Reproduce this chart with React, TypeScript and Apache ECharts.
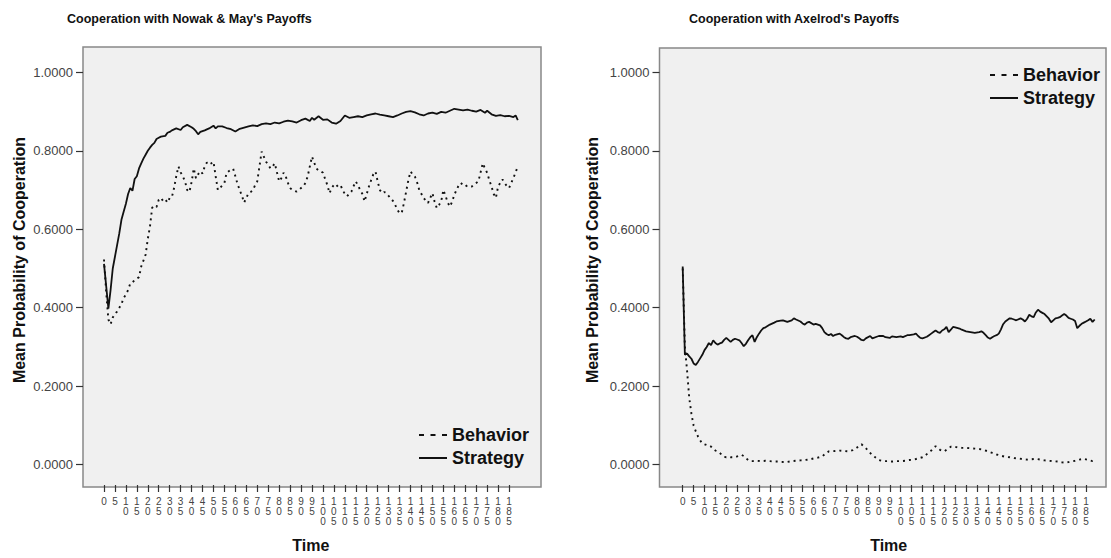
import React, { useEffect, useRef } from "react";
import * as echarts from "echarts";

const FONT = "'Liberation Sans', Arial, sans-serif";

// Time steps (categories) and labelled ticks
const TIME_STEPS: string[] = Array.from({ length: 190 }, (_, i) => String(i));
const LAST_LABELLED_STEP = 185;
const LABEL_EVERY = 5;

const TITLES = ["Cooperation with Nowak & May's Payoffs", "Cooperation with Axelrod's Payoffs"];
const Y_NAME = "Mean Probability of Cooperation";
const X_NAME = "Time";
const SERIES_NAMES = ["Behavior", "Strategy"];

// Nowak & May: Strategy [time, mean probability]
const nmStrategy: [number, number][] = [
  [0, 0.512], [1, 0.455], [2, 0.398], [3, 0.445], [4, 0.5], [5, 0.53], [6, 0.56], [7, 0.59], [8, 0.625], [9, 0.645],
  [10, 0.665], [11, 0.69], [12, 0.705], [13, 0.698], [14, 0.728], [15, 0.735], [16, 0.755], [17, 0.768], [18, 0.78],
  [19, 0.79], [20, 0.8], [21, 0.808], [22, 0.815], [23, 0.82], [24, 0.83], [25, 0.833], [26, 0.836], [28, 0.838],
  [29, 0.846], [30, 0.848], [31, 0.852], [33, 0.857], [35, 0.853], [36, 0.86], [38, 0.866], [40, 0.86], [41, 0.856],
  [42, 0.85], [43, 0.842], [44, 0.848], [46, 0.852], [48, 0.857], [50, 0.864], [51, 0.857], [52, 0.862], [54, 0.862],
  [56, 0.858], [58, 0.855], [60, 0.849], [62, 0.856], [64, 0.859], [66, 0.862], [68, 0.865], [70, 0.863], [72, 0.868],
  [74, 0.87], [76, 0.868], [78, 0.872], [80, 0.87], [82, 0.874], [84, 0.877], [86, 0.875], [88, 0.872], [90, 0.878],
  [92, 0.882], [94, 0.876], [95, 0.884], [96, 0.879], [98, 0.888], [100, 0.879], [102, 0.88], [104, 0.872], [106, 0.869],
  [108, 0.876], [110, 0.89], [112, 0.884], [114, 0.886], [116, 0.888], [118, 0.886], [120, 0.89], [122, 0.893],
  [124, 0.895], [126, 0.892], [128, 0.89], [130, 0.888], [132, 0.886], [134, 0.89], [136, 0.895], [138, 0.899],
  [140, 0.901], [142, 0.898], [144, 0.893], [146, 0.89], [148, 0.895], [150, 0.897], [152, 0.894], [154, 0.899],
  [156, 0.897], [158, 0.902], [160, 0.907], [162, 0.905], [164, 0.903], [166, 0.905], [168, 0.902], [170, 0.9],
  [172, 0.904], [174, 0.897], [175, 0.902], [177, 0.893], [179, 0.889], [181, 0.891], [183, 0.888], [185, 0.889],
  [187, 0.886], [188, 0.89], [189, 0.878],
];

// Nowak & May: Behavior
const nmBehavior: [number, number][] = [
  [0, 0.523], [1, 0.44], [2, 0.37], [3, 0.358], [4, 0.375], [5, 0.385], [6, 0.39], [7, 0.4], [8, 0.41], [9, 0.425],
  [10, 0.434], [11, 0.445], [12, 0.462], [13, 0.465], [14, 0.47], [15, 0.474], [16, 0.478], [17, 0.505], [18, 0.52],
  [19, 0.535], [20, 0.575], [21, 0.607], [22, 0.655], [23, 0.66], [24, 0.657], [25, 0.675], [26, 0.68], [27, 0.672],
  [28, 0.676], [29, 0.668], [30, 0.68], [31, 0.682], [32, 0.705], [33, 0.735], [34, 0.76], [35, 0.745], [36, 0.735],
  [37, 0.722], [38, 0.7], [39, 0.695], [40, 0.72], [41, 0.755], [42, 0.73], [43, 0.74], [44, 0.748], [45, 0.742],
  [46, 0.76], [47, 0.77], [48, 0.765], [49, 0.768], [50, 0.772], [51, 0.735], [52, 0.7], [53, 0.705], [54, 0.712],
  [55, 0.718], [56, 0.744], [57, 0.748], [58, 0.752], [59, 0.754], [60, 0.735], [61, 0.715], [62, 0.7], [63, 0.685],
  [64, 0.668], [65, 0.68], [66, 0.692], [67, 0.695], [68, 0.7], [69, 0.712], [70, 0.722], [71, 0.76], [72, 0.798],
  [73, 0.785], [74, 0.772], [75, 0.765], [76, 0.755], [77, 0.76], [78, 0.768], [79, 0.745], [80, 0.722], [81, 0.73],
  [82, 0.744], [83, 0.735], [84, 0.718], [85, 0.705], [86, 0.7], [87, 0.698], [88, 0.696], [89, 0.7], [90, 0.705],
  [91, 0.709], [92, 0.718], [93, 0.734], [94, 0.76], [95, 0.785], [96, 0.77], [97, 0.755], [98, 0.75], [99, 0.748],
  [100, 0.744], [101, 0.728], [102, 0.713], [103, 0.692], [104, 0.705], [105, 0.713], [106, 0.708], [107, 0.713],
  [108, 0.713], [109, 0.7], [110, 0.69], [111, 0.684], [112, 0.69], [113, 0.696], [114, 0.71], [115, 0.722],
  [116, 0.712], [117, 0.7], [118, 0.69], [119, 0.671], [120, 0.69], [121, 0.709], [122, 0.725], [123, 0.74],
  [124, 0.747], [125, 0.722], [126, 0.7], [127, 0.692], [128, 0.695], [129, 0.692], [130, 0.685], [131, 0.678],
  [132, 0.672], [133, 0.662], [134, 0.65], [135, 0.641], [136, 0.642], [137, 0.667], [138, 0.696], [139, 0.725],
  [140, 0.747], [141, 0.74], [142, 0.734], [143, 0.72], [144, 0.7], [145, 0.69], [146, 0.68], [147, 0.672],
  [148, 0.667], [149, 0.68], [150, 0.692], [151, 0.67], [152, 0.654], [153, 0.662], [154, 0.671], [155, 0.7],
  [156, 0.685], [157, 0.668], [158, 0.658], [159, 0.67], [160, 0.688], [161, 0.7], [162, 0.712], [163, 0.718],
  [164, 0.712], [165, 0.709], [166, 0.712], [167, 0.71], [168, 0.709], [169, 0.715], [170, 0.718], [171, 0.722],
  [172, 0.745], [173, 0.768], [174, 0.755], [175, 0.744], [176, 0.725], [177, 0.709], [178, 0.69], [179, 0.68],
  [180, 0.709], [181, 0.718], [182, 0.727], [183, 0.718], [184, 0.71], [185, 0.705], [186, 0.718], [187, 0.731],
  [188, 0.745], [189, 0.76],
];

// Axelrod: Strategy
const axStrategy: [number, number][] = [
  [0, 0.505], [1, 0.28], [2, 0.283], [3, 0.276], [4, 0.27], [5, 0.258], [6, 0.254], [7, 0.262], [8, 0.271], [9, 0.28],
  [10, 0.292], [11, 0.3], [12, 0.31], [13, 0.305], [14, 0.317], [15, 0.31], [16, 0.306], [17, 0.309], [18, 0.311],
  [19, 0.318], [20, 0.323], [21, 0.318], [22, 0.313], [23, 0.318], [24, 0.321], [25, 0.319], [26, 0.317], [27, 0.31],
  [28, 0.302], [29, 0.308], [30, 0.317], [31, 0.325], [32, 0.33], [33, 0.313], [34, 0.325], [35, 0.334], [36, 0.342],
  [37, 0.348], [38, 0.35], [40, 0.357], [42, 0.362], [43, 0.365], [45, 0.367], [46, 0.368], [47, 0.366], [48, 0.364],
  [50, 0.368], [51, 0.373], [52, 0.37], [54, 0.365], [55, 0.36], [56, 0.357], [57, 0.362], [58, 0.364], [60, 0.357],
  [61, 0.359], [63, 0.355], [64, 0.348], [65, 0.338], [66, 0.333], [67, 0.33], [68, 0.333], [69, 0.328], [70, 0.331],
  [72, 0.334], [73, 0.33], [74, 0.325], [75, 0.322], [76, 0.321], [77, 0.325], [79, 0.328], [80, 0.326], [81, 0.322],
  [82, 0.318], [83, 0.317], [84, 0.322], [86, 0.328], [87, 0.322], [89, 0.326], [90, 0.328], [92, 0.328], [93, 0.325],
  [95, 0.323], [96, 0.327], [98, 0.325], [100, 0.327], [101, 0.325], [103, 0.33], [104, 0.33], [106, 0.332],
  [107, 0.334], [108, 0.328], [109, 0.323], [110, 0.322], [112, 0.326], [113, 0.33], [114, 0.334], [115, 0.338],
  [116, 0.342], [117, 0.338], [118, 0.336], [119, 0.342], [120, 0.345], [121, 0.351], [122, 0.338], [123, 0.344],
  [124, 0.351], [125, 0.35], [127, 0.347], [128, 0.344], [130, 0.34], [132, 0.338], [134, 0.336], [136, 0.338],
  [137, 0.34], [138, 0.336], [139, 0.33], [140, 0.324], [141, 0.321], [142, 0.325], [143, 0.328], [144, 0.33],
  [145, 0.334], [146, 0.345], [147, 0.358], [148, 0.365], [150, 0.373], [151, 0.372], [152, 0.37], [153, 0.368],
  [155, 0.373], [156, 0.37], [157, 0.365], [158, 0.372], [159, 0.382], [160, 0.378], [161, 0.376], [162, 0.388],
  [163, 0.395], [164, 0.39], [165, 0.387], [166, 0.384], [167, 0.378], [168, 0.372], [169, 0.363], [170, 0.368],
  [171, 0.373], [172, 0.374], [173, 0.376], [174, 0.38], [175, 0.384], [176, 0.38], [177, 0.374], [178, 0.372],
  [179, 0.37], [180, 0.366], [181, 0.348], [182, 0.354], [183, 0.359], [184, 0.362], [185, 0.365], [186, 0.368],
  [187, 0.372], [188, 0.364], [189, 0.37],
];

// Axelrod: Behavior
const axBehavior: [number, number][] = [
  [0, 0.5], [1, 0.3], [2, 0.24], [3, 0.17], [4, 0.13], [5, 0.1], [6, 0.085], [7, 0.072], [8, 0.062], [9, 0.054],
  [10, 0.052], [11, 0.05], [12, 0.049], [13, 0.046], [14, 0.04], [15, 0.036], [16, 0.034], [17, 0.03], [18, 0.025],
  [19, 0.02], [20, 0.019], [21, 0.02], [22, 0.019], [23, 0.019], [24, 0.019], [25, 0.021], [26, 0.023], [27, 0.025],
  [28, 0.022], [29, 0.017], [30, 0.012], [31, 0.009], [32, 0.009], [34, 0.01], [36, 0.009], [38, 0.01], [40, 0.009],
  [42, 0.008], [44, 0.008], [46, 0.007], [48, 0.007], [50, 0.009], [52, 0.01], [54, 0.011], [56, 0.012], [58, 0.013],
  [60, 0.016], [62, 0.018], [64, 0.021], [65, 0.026], [66, 0.03], [67, 0.034], [68, 0.034], [70, 0.035], [72, 0.036],
  [74, 0.035], [76, 0.034], [78, 0.037], [79, 0.04], [80, 0.044], [81, 0.048], [82, 0.052], [83, 0.047], [84, 0.042],
  [85, 0.036], [86, 0.03], [87, 0.024], [88, 0.02], [89, 0.016], [90, 0.012], [92, 0.009], [94, 0.009], [96, 0.008],
  [98, 0.009], [100, 0.009], [102, 0.01], [104, 0.012], [106, 0.013], [108, 0.016], [110, 0.019], [111, 0.022],
  [112, 0.027], [113, 0.032], [114, 0.036], [115, 0.042], [116, 0.047], [117, 0.043], [118, 0.038], [119, 0.036],
  [120, 0.034], [121, 0.038], [122, 0.042], [123, 0.046], [124, 0.047], [126, 0.044], [128, 0.043], [130, 0.043],
  [132, 0.042], [134, 0.041], [136, 0.04], [138, 0.038], [140, 0.034], [142, 0.03], [144, 0.026], [146, 0.023],
  [148, 0.02], [150, 0.019], [152, 0.017], [154, 0.016], [156, 0.014], [158, 0.013], [160, 0.014], [162, 0.015],
  [164, 0.013], [166, 0.011], [168, 0.01], [170, 0.009], [172, 0.008], [174, 0.006], [176, 0.005], [178, 0.008],
  [180, 0.01], [182, 0.013], [184, 0.015], [186, 0.012], [188, 0.009], [189, 0.01],
];

const W = 1111;
const H = 558;

// Panel geometry (pixels)
const PANELS = [
  { boxX: 83, boxY: 47, boxW: 458, boxH: 440, gridLeft: 104, gridW: 413.8, titleX: 67, yNameX: 19 },
  { boxX: 659.5, boxY: 48, boxW: 446.5, boxH: 439, gridLeft: 682.7, gridW: 412, titleX: 689, yNameX: 592 },
];
const GRID_TOP = 72.3;
const GRID_BOTTOM_Y = 466.7;

const tickFn = (index: number) => index % LABEL_EVERY === 0 && index <= LAST_LABELLED_STEP;

function lineSeries(name: string, data: [number, number][], idx: number, dotted: boolean) {
  return {
    type: "line",
    name,
    data,
    xAxisIndex: idx * 2 + 1,
    yAxisIndex: idx,
    symbol: "none",
    showSymbol: false,
    silent: true,
    clip: false,
    color: "#111",
    lineStyle: dotted
      ? { color: "#111", width: 1.9, type: [2, 4] }
      : { color: "#111", width: 1.8, type: "solid" },
    itemStyle: { color: "#111" },
  };
}

export default function App() {
  const ref = useRef<HTMLDivElement>(null);

  useEffect(() => {
    if (!ref.current) return;
    const chart = echarts.init(ref.current, null, { renderer: "svg" });

    const grids = PANELS.map((p) => ({
      left: p.gridLeft,
      width: p.gridW,
      top: GRID_TOP,
      height: GRID_BOTTOM_Y - GRID_TOP,
    }));

    const hiddenLine = { show: true, onZero: false, lineStyle: { color: "rgba(0,0,0,0)", width: 0 } };

    const xAxes: any[] = [];
    PANELS.forEach((p, i) => {
      xAxes.push({
        type: "category",
        gridIndex: i,
        data: TIME_STEPS,
        boundaryGap: false,
        position: "bottom",
        offset: p.boxY + p.boxH - GRID_BOTTOM_Y,
        axisLine: hiddenLine,
        axisTick: { show: true, interval: tickFn, length: 7, lineStyle: { color: "#333", width: 1.2 } },
        axisLabel: {
          interval: tickFn,
          formatter: (v: string) => v.split("").join("\n"),
          fontSize: 10,
          lineHeight: 10,
          color: "#444",
          margin: 11,
          fontFamily: FONT,
        },
        splitLine: { show: false },
        name: X_NAME,
        nameLocation: "middle",
        nameGap: 52,
        nameTextStyle: { fontWeight: "bold", fontSize: 16, color: "#111", fontFamily: FONT },
      });
      xAxes.push({
        type: "value",
        gridIndex: i,
        min: 0,
        max: TIME_STEPS.length - 1,
        show: false,
        axisLine: { onZero: false },
      });
    });

    const yAxes = PANELS.map((p, i) => ({
      type: "value",
      gridIndex: i,
      min: 0,
      max: 1,
      interval: 0.2,
      offset: p.gridLeft - p.boxX,
      axisLine: hiddenLine,
      axisTick: { show: true, length: 7, lineStyle: { color: "#333", width: 1.2 } },
      axisLabel: {
        formatter: (v: number) => v.toFixed(4),
        fontSize: 13,
        color: "#444",
        margin: 10,
        fontFamily: FONT,
      },
      splitLine: { show: false },
    }));

    const graphic: any[] = [];
    PANELS.forEach((p) => {
      graphic.push({
        type: "rect",
        z: -10,
        silent: true,
        shape: { x: p.boxX, y: p.boxY, width: p.boxW, height: p.boxH },
        style: { fill: "#f0f0f0", stroke: "#888", lineWidth: 1.5 },
      });
      graphic.push({
        type: "text",
        x: p.yNameX,
        y: 260,
        rotation: Math.PI / 2,
        silent: true,
        style: {
          text: Y_NAME,
          fill: "#111",
          fontSize: 16,
          fontWeight: "bold",
          fontFamily: FONT,
          align: "center",
          verticalAlign: "middle",
          textAlign: "center",
          textVerticalAlign: "middle",
        },
      });
    });

    const legendCommon = {
      orient: "vertical",
      itemWidth: 28,
      itemHeight: 14,
      itemGap: 5,
      padding: 0,
      selectedMode: false,
      itemStyle: { opacity: 0, color: "rgba(0,0,0,0)", borderWidth: 0 },
      data: [
        { name: SERIES_NAMES[0], lineStyle: { type: [5, 6.5], width: 2 } },
        { name: SERIES_NAMES[1] },
      ],
      textStyle: { fontSize: 18, fontWeight: "bold", color: "#111", fontFamily: FONT },
    };

    chart.setOption({
      animation: false,
      backgroundColor: "#ffffff",
      title: PANELS.map((p, i) => ({
        text: TITLES[i],
        left: p.titleX,
        top: 12.5,
        padding: 0,
        textStyle: { fontSize: 12.5, fontWeight: "bold", color: "#111", fontFamily: FONT },
      })),
      legend: [
        { ...legendCommon, left: 418, top: 426 },
        { ...legendCommon, left: 989, top: 66 },
      ],
      grid: grids,
      xAxis: xAxes,
      yAxis: yAxes,
      graphic,
      series: [
        lineSeries(SERIES_NAMES[0], nmBehavior, 0, true),
        lineSeries(SERIES_NAMES[1], nmStrategy, 0, false),
        lineSeries(SERIES_NAMES[0], axBehavior, 1, true),
        lineSeries(SERIES_NAMES[1], axStrategy, 1, false),
      ],
    });

    return () => chart.dispose();
  }, []);

  return (
    <div
      ref={ref}
      style={{ position: "fixed", left: 0, top: 0, width: W, height: H }}
    />
  );
}
